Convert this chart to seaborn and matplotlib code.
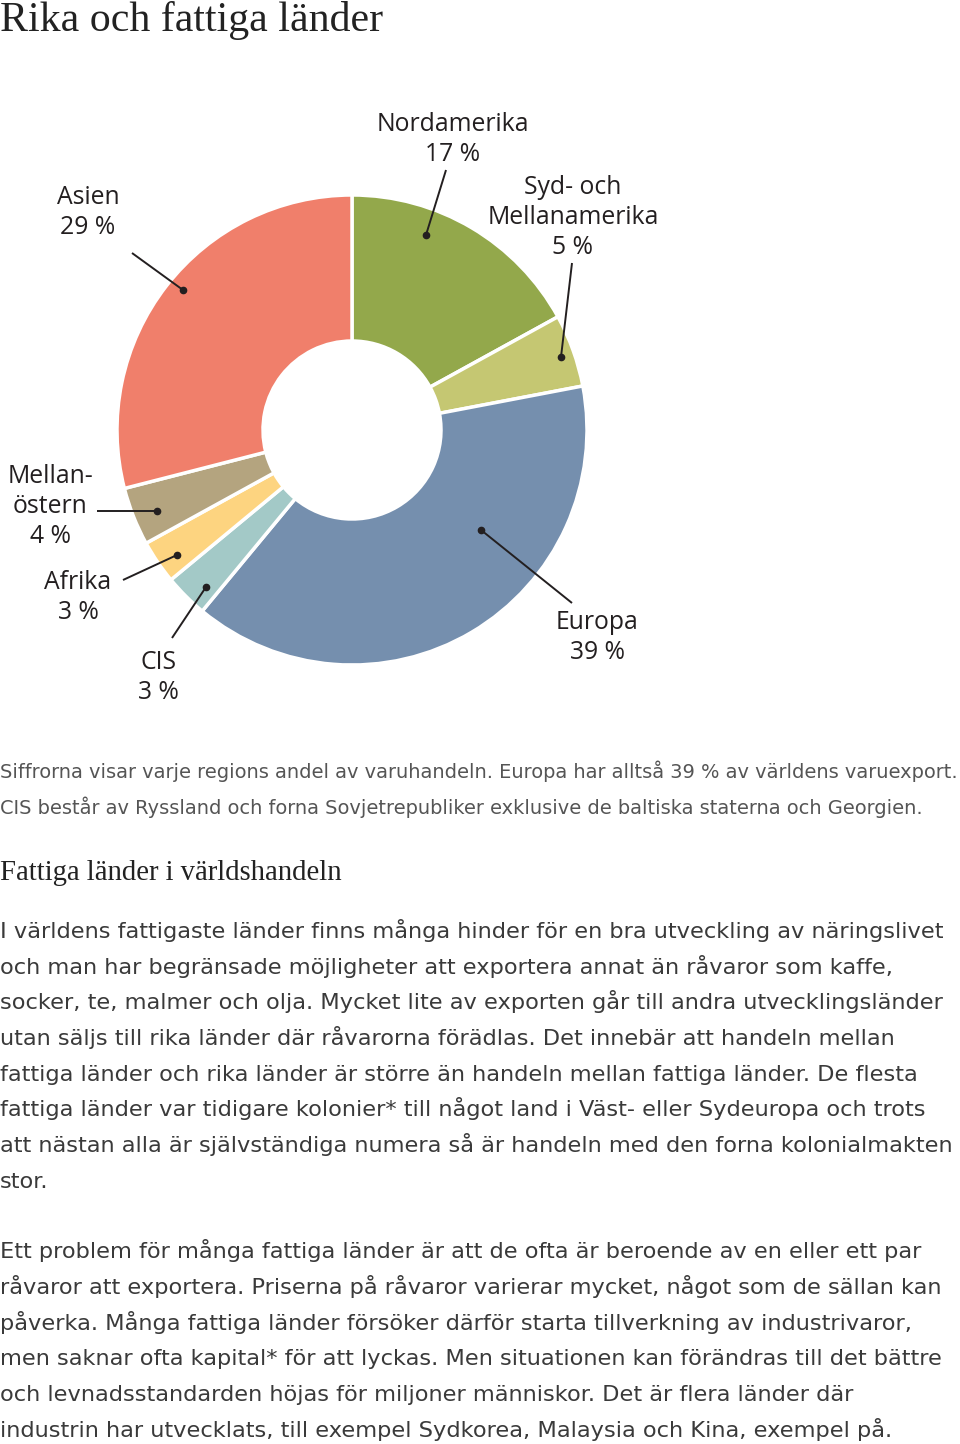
import matplotlib.pyplot as plt
import seaborn as sns

sns.set_style('white')

W, H = 960, 1444

# data
regions = ['Nordamerika', 'Syd- och\nMellanamerika', 'Europa', 'CIS', 'Afrika', 'Mellan-\nöstern', 'Asien']
shares = [17, 5, 39, 3, 3, 4, 29]
colors = ['#93a84b', '#c5c772', '#758fae', '#a3c9c7', '#fdd480', '#b4a47f', '#f07f6b']

# label anchor (x centre, first baseline), leader start, leader dot -- in pixels from top-left
label_pos = [(453, 131), (573, 194), (597, 629), (158, 669), (78, 589), (50, 483), (88, 204)]
leader_from = [(446, 170), (572, 263), (572, 603), (172, 638), (123, 580), (97, 511), (132, 253)]
leader_dot = [(426, 235), (561, 357), (481, 530), (206, 587), (177, 555), (157, 511), (183, 290)]

title = 'Rika och fattiga länder'
caption = ['Siffrorna visar varje regions andel av varuhandeln. Europa har alltså 39 % av världens varuexport.',
           'CIS består av Ryssland och forna Sovjetrepubliker exklusive de baltiska staterna och Georgien.']
subtitle = 'Fattiga länder i världshandeln'
para1 = ['I världens fattigaste länder finns många hinder för en bra utveckling av näringslivet',
         'och man har begränsade möjligheter att exportera annat än råvaror som kaffe,',
         'socker, te, malmer och olja. Mycket lite av exporten går till andra utvecklingsländer',
         'utan säljs till rika länder där råvarorna förädlas. Det innebär att handeln mellan',
         'fattiga länder och rika länder är större än handeln mellan fattiga länder. De flesta',
         'fattiga länder var tidigare kolonier* till något land i Väst- eller Sydeuropa och trots',
         'att nästan alla är självständiga numera så är handeln med den forna kolonialmakten',
         'stor.']
para2 = ['Ett problem för många fattiga länder är att de ofta är beroende av en eller ett par',
         'råvaror att exportera. Priserna på råvaror varierar mycket, något som de sällan kan',
         'påverka. Många fattiga länder försöker därför starta tillverkning av industrivaror,',
         'men saknar ofta kapital* för att lyckas. Men situationen kan förändras till det bättre',
         'och levnadsstandarden höjas för miljoner människor. Det är flera länder där',
         'industrin har utvecklats, till exempel Sydkorea, Malaysia och Kina, exempel på.']


def Y(y):
    return H - y


fig = plt.figure(figsize=(W / 100, H / 100), dpi=100)
ax = fig.add_axes([0, 0, 1, 1])

ax.pie(shares, colors=colors, startangle=90, counterclock=False,
       radius=235, center=(352, Y(430)),
       wedgeprops=dict(width=146, edgecolor='white', linewidth=2.5))
ax.set_xlim(0, W)
ax.set_ylim(0, H)
ax.set_aspect('equal')
ax.axis('off')

lab_font = dict(family='Open Sans', fontsize=17.8, color='#231f20', ha='center', va='baseline')
for name, v, (lx, ly), (fx, fy), (dx, dy) in zip(regions, shares, label_pos, leader_from, leader_dot):
    lines = name.split('\n') + [f'{v} %']
    for i, s in enumerate(lines):
        ax.text(lx, Y(ly + 30 * i), s, **lab_font)
    ax.plot([fx, dx], [Y(fy), Y(dy)], color='#231f20', lw=1.4, solid_capstyle='butt')
    ax.plot(dx, Y(dy), 'o', color='#231f20', ms=4.5)

ax.text(0, Y(31), title, family='Liberation Serif', fontsize=30.2, color='#222222', va='baseline')
for i, s in enumerate(caption):
    ax.text(0, Y(778 + 36 * i), s, family='DejaVu Sans', fontsize=13.95, color='#555555', va='baseline')
ax.text(0, Y(880), subtitle, family='Liberation Serif', fontsize=20.6, color='#222222', va='baseline')
for i, s in enumerate(para1):
    ax.text(0, Y(938 + 35.7 * i), s, family='DejaVu Sans', fontsize=16.2, color='#3a3a3a', va='baseline')
for i, s in enumerate(para2):
    ax.text(0, Y(1258 + 35.8 * i), s, family='DejaVu Sans', fontsize=16.2, color='#3a3a3a', va='baseline')

fig.savefig('out.png', dpi=100)
